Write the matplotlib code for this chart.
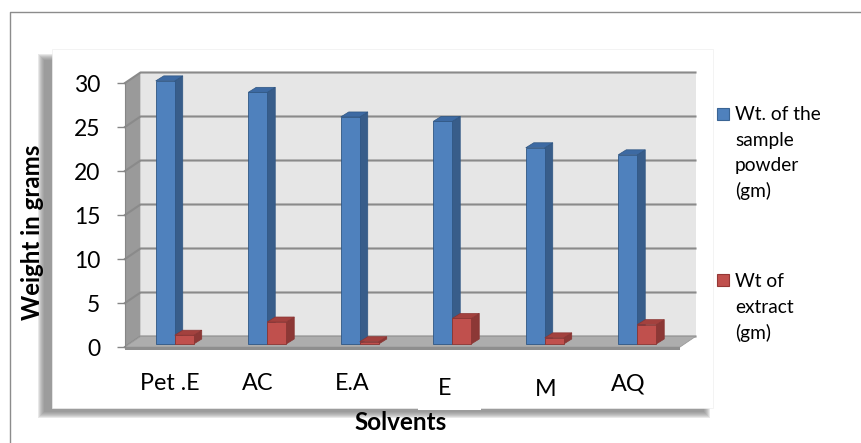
import numpy as np
import matplotlib
matplotlib.use("Agg")
import matplotlib.pyplot as plt
from matplotlib.patches import Polygon, Rectangle

# data
solvents = ['Pet .E', 'AC', 'E.A', 'E', 'M', 'AQ']
sample_powder = [29.9, 28.6, 25.8, 25.3, 22.3, 21.5]
extract = [1.0, 2.5, 0.26, 2.9, 0.7, 2.2]
y_ticks = [0, 5, 10, 15, 20, 25, 30]
legend_powder = ['Wt. of the', 'sample', 'powder', '(gm)']
legend_extract = ['Wt of', 'extract', '(gm)']

# small pixel nudges of the category labels (they sit a bit irregularly)
label_dx = [-1, -6, -4, -4, 4, -6]
label_base = [390, 390, 390, 395, 396, 390]

W, H = 861, 443
plt.rcParams['font.family'] = ['Lato', 'DejaVu Sans']

fig = plt.figure(figsize=(W / 100, H / 100), dpi=100)

# background layer in pixel coordinates
bg = fig.add_axes([0, 0, 1, 1], zorder=0)
bg.set_xlim(0, W)
bg.set_ylim(H, 0)
bg.axis('off')

bg.plot([9.5, 9.5, W], [H, 11.5, 11.5], color='#8c8c8c', lw=1.0)

# soft shadow of the chart area
for k in range(7):
    bg.add_patch(Rectangle((38 + k, 54 + k), 672 - 2 * k, 364 - 2 * k,
                           fc='#7a7a7a', ec='none', alpha=0.17))
bg.add_patch(Rectangle((52, 49), 661, 359, fc='white', ec='#eeeeee', lw=0.5))
# text box behind the "E" label
bg.add_patch(Rectangle((418, 372), 63, 37.5, fc='white', ec='none'))

# legend
bg.add_patch(Rectangle((717, 108), 12, 12, fc='#4f81bd', ec='#3a6494', lw=0.8))
bg.add_patch(Rectangle((717, 274), 12, 12, fc='#c0504d', ec='#953735', lw=0.8))
for i, line in enumerate(legend_powder):
    bg.text(735, 120 + 25.7 * i, line, fontsize=13.8, va='baseline', ha='left')
for i, line in enumerate(legend_extract):
    bg.text(735, 287 + 26 * i, line, fontsize=13.8, va='baseline', ha='left')

bg.text(33, 232, 'Weight in grams', rotation=90, ha='center', va='center',
        fontsize=17.3, fontweight='bold')
bg.text(401, 423, 'Solvents', ha='center', va='center',
        fontsize=17.5, fontweight='bold')

# plot area: front plane of the 3-D box
ax = fig.add_axes([125 / W, (H - 347) / H, 555 / W, 264 / H], zorder=1)
ax.set_xlim(-0.5, 5.5)
ax.set_ylim(0, 30)
ax.patch.set_visible(False)

px = 6 / 555   # data units per pixel, x
py = 30 / 264  # data units per pixel, y
wdx, wdy = 15.5 * px, 10.5 * py
x0, x1 = -0.5, 5.5

# left wall, back wall, gridlines
ax.add_patch(Polygon([(x0, 0), (x0, 30), (x0 + wdx, 30 + wdy), (x0 + wdx, wdy)],
                     closed=True, fc='#9a9a9a', ec='none', clip_on=False, zorder=1))
ax.add_patch(Polygon([(x0 + wdx, wdy), (x0 + wdx, 30 + wdy), (x1 + wdx, 30 + wdy), (x1 + wdx, wdy)],
                     closed=True, fc='#e6e6e6', ec='none', clip_on=False, zorder=1))
for t in y_ticks:
    ax.plot([x0, x0 + wdx, x1 + wdx], [t, t + wdy, t + wdy], color='#8a8a8a',
            lw=1.5, clip_on=False, zorder=2)

# floor
ax.add_patch(Polygon([(x0, 0), (x1, 0), (x1 + wdx, wdy), (x0 + wdx, wdy)],
                     closed=True, fc='#adadad', ec='#9a9a9a', lw=0.6, clip_on=False, zorder=3))
ax.add_patch(Rectangle((x0, -2.5 * py), 6, 2.5 * py, fc='#8e8e8e', ec='none',
                       clip_on=False, zorder=3))

# 3-D bars
x = np.arange(len(solvents))
bx, by = 3.5 * px, 3 * py
bw = 19 * px
dx, dy = 8 * px, 5 * py

series = [
    (x + bx - bw, sample_powder, '#4f81bd', '#385d8a', '#3d6aa3', '#2f5683'),
    (x + bx, extract, '#c0504d', '#8c3836', '#a3413e', '#8a3533'),
]
z = 4
for xs, vals, front, side, top, edge in series:
    for xi, v in zip(xs, vals):
        h = by + v
        ax.add_patch(Polygon([(xi + bw, by), (xi + bw + dx, by + dy), (xi + bw + dx, h + dy), (xi + bw, h)],
                             closed=True, fc=side, ec=edge, lw=0.5, clip_on=False, zorder=z))
        ax.add_patch(Polygon([(xi, h), (xi + bw, h), (xi + bw + dx, h + dy), (xi + dx, h + dy)],
                             closed=True, fc=top, ec=edge, lw=0.5, clip_on=False, zorder=z))
    ax.bar(xs, vals, width=bw, bottom=by, align='edge', color=front,
           edgecolor=edge, lw=0.6, zorder=z + 1, clip_on=False)
    z += 2

# axis
for s in ['top', 'right', 'bottom']:
    ax.spines[s].set_visible(False)
ax.spines['left'].set_color('#868686')
ax.spines['left'].set_zorder(6)
ax.set_yticks(y_ticks)
ax.set_xticks([])
ax.tick_params(axis='y', direction='out', length=5.8, width=1, color='#868686',
               pad=12, labelsize=16.5)

for i, name in enumerate(solvents):
    ax.text(i + label_dx[i] * px, -(label_base[i] - 347) * py, name,
            ha='center', va='baseline', fontsize=16.8, clip_on=False)

fig.savefig('out.png', dpi=100)
